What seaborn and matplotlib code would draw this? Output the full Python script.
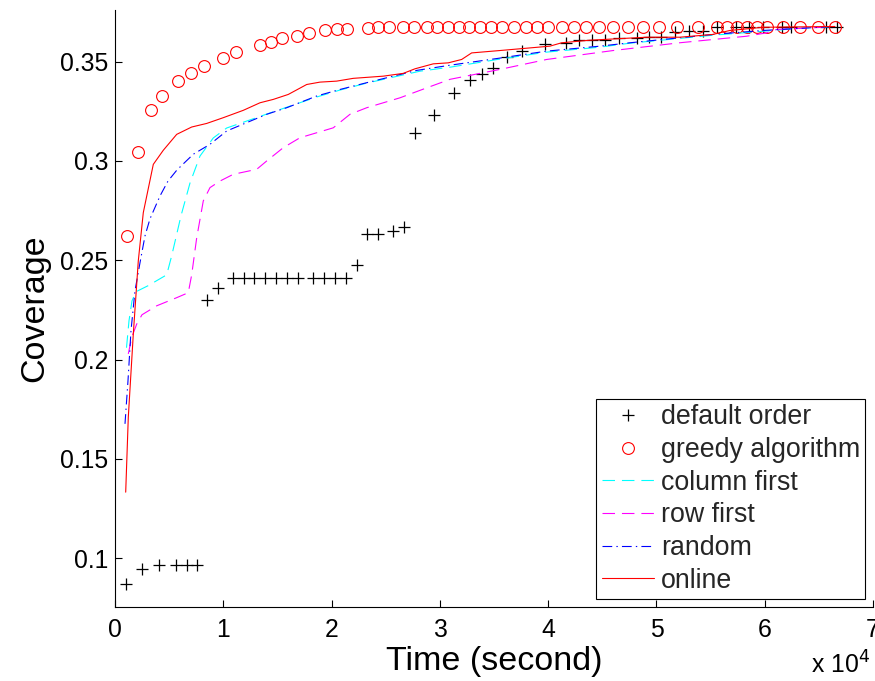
import numpy as np
import pandas as pd
import matplotlib
matplotlib.use("Agg")
import matplotlib.pyplot as plt
import seaborn as sns

# ---------------- data ----------------
default_x = [988, 2521, 4090, 5633, 6620, 7544,
             8467, 9483, 10923, 11939, 12862, 13850, 14866, 15882, 16870,
             18310, 19298, 20314, 21302, 22318, 23241, 24257, 25642, 26713,
             27701, 29483, 31302, 32779, 33860, 34875, 36224, 37553, 39705,
             41616, 42844, 44072, 45245, 46537, 48200, 49350, 50460, 51708,
             53000, 54290, 55560, 57390, 58540, 59830, 61590, 62420, 65650, 66670]
default_y = [0.0869, 0.0946, 0.0965, 0.0965, 0.0965, 0.0965,
             0.2300, 0.2360, 0.2409, 0.2409, 0.2409, 0.2409, 0.2409, 0.2409, 0.2409,
             0.2412, 0.2412, 0.2412, 0.2412, 0.2476, 0.2632, 0.2632, 0.2648, 0.2668,
             0.3139, 0.3231, 0.3343, 0.3406, 0.3439, 0.3469, 0.3524, 0.3556, 0.3589,
             0.3594, 0.3607, 0.3607, 0.3607, 0.3620, 0.3620, 0.3622, 0.3625, 0.3650,
             0.3652, 0.3652, 0.3675, 0.3675, 0.3675, 0.3675, 0.3675, 0.3675, 0.3675, 0.3675]

greedy_x = [1080, 2096, 3324, 4312, 5845, 7018, 8218, 10000, 11173, 13389,
            14377, 15393, 16777, 17913, 19391, 20526, 21450, 23389, 24312, 25328,
            26620, 27608, 28781, 29760, 30776, 31764, 32715, 33703, 34718, 35762,
            36870, 37922, 38938, 39954, 41247, 42410, 43463, 44737, 46011, 47341,
            48753, 50203, 51893, 53832, 55559, 56482, 57406, 58329, 59252, 60249,
            61708, 63278, 64940, 66528]
greedy_y = [0.2620, 0.3045, 0.3256, 0.3327, 0.3402, 0.3442, 0.3476, 0.3519, 0.3549, 0.3584,
            0.3600, 0.3617, 0.3630, 0.3642, 0.3657, 0.3662, 0.3665, 0.3671, 0.3673, 0.3675,
            0.3675, 0.3675, 0.3675, 0.3675, 0.3675, 0.3675, 0.3675, 0.3675, 0.3675, 0.3675,
            0.3675, 0.3675, 0.3675, 0.3675, 0.3675, 0.3675, 0.3675, 0.3675, 0.3675, 0.3675,
            0.3675, 0.3675, 0.3675, 0.3675, 0.3675, 0.3675, 0.3675, 0.3675, 0.3675, 0.3675,
            0.3675, 0.3675, 0.3675, 0.3675]

column_x = [1062, 1293, 1570, 1939, 3047, 4774, 5236, 6094, 6925, 7849, 9077, 10314,
            12161, 14007, 18624, 20776, 23241, 25697, 28163, 30932, 35549, 39862,
            44783, 47553, 55217, 59834, 63250, 66297]
column_y = [0.2060, 0.2196, 0.2296, 0.2342, 0.2372, 0.2427, 0.2523, 0.2724, 0.2889, 0.3025,
            0.3116, 0.3166, 0.3201, 0.3236, 0.3322, 0.3357, 0.3392, 0.3422, 0.3452, 0.3472,
            0.3513, 0.3548, 0.3573, 0.3593, 0.3633, 0.3653, 0.3668, 0.3676]

row_x = [1228, 1542, 2004, 2493, 3850, 5697, 6768, 7082, 7544, 8153, 8772, 9695,
         10923, 13084, 14007, 15540, 17082, 20157, 21699, 23241, 26316, 28781,
         30932, 35549, 39862, 46011, 52142, 58329, 60175, 61098, 65402]
row_y = [0.2029, 0.2112, 0.2179, 0.2226, 0.2271, 0.2312, 0.2337, 0.2427, 0.2613, 0.2799,
         0.2866, 0.2899, 0.2933, 0.2958, 0.3000, 0.3067, 0.3117, 0.3167, 0.3235, 0.3268,
         0.3318, 0.3368, 0.3411, 0.3461, 0.3511, 0.3556, 0.3595, 0.3628, 0.3645, 0.3662,
         0.3673]

random_x = [923, 1200, 1477, 1847, 2308, 2770, 3232, 4155, 4894, 5725, 7230, 8772,
            10314, 12161, 14007, 15854, 18624, 20776, 23241, 25697, 27858, 30932,
            35549, 39862, 44783, 47553, 55245, 59862, 66297]
random_y = [0.1677, 0.1894, 0.2146, 0.2347, 0.2488, 0.2623, 0.2709, 0.2824, 0.2899, 0.2955,
            0.3034, 0.3084, 0.3151, 0.3193, 0.3235, 0.3268, 0.3327, 0.3360, 0.3394, 0.3427,
            0.3456, 0.3482, 0.3518, 0.3553, 0.3578, 0.3595, 0.3637, 0.3657, 0.3677]

online_x = [988, 1228, 1690, 2151, 2613, 3537, 4460, 5697, 7082, 8467, 10000, 11847,
            13389, 14617, 16002, 17701, 18929, 20471, 22004, 24774, 26620, 27701,
            29391, 30776, 32013, 32936, 35549, 40166, 41247, 43860, 49095, 52142,
            55217, 56787, 59834, 66482]
online_y = [0.1333, 0.1710, 0.2129, 0.2497, 0.2740, 0.2983, 0.3054, 0.3134, 0.3171, 0.3189,
            0.3218, 0.3255, 0.3293, 0.3310, 0.3335, 0.3385, 0.3397, 0.3402, 0.3416, 0.3427,
            0.3441, 0.3464, 0.3489, 0.3494, 0.3511, 0.3544, 0.3556, 0.3578, 0.3595, 0.3608,
            0.3623, 0.3623, 0.3637, 0.3657, 0.3673, 0.3677]

labels = ["default order", "greedy algorithm", "column first", "row first", "random", "online"]
x_ticks = [0, 10000, 20000, 30000, 40000, 50000, 60000, 70000]
x_tick_labels = ["0", "1", "2", "3", "4", "5", "6", "7"]
y_ticks = [0.1, 0.15, 0.2, 0.25, 0.3, 0.35]
y_tick_labels = ["0.1", "0.15", "0.2", "0.25", "0.3", "0.35"]

# ---------------- style ----------------
sns.set_theme(style="ticks")
plt.rcParams["font.family"] = ["Liberation Sans", "DejaVu Sans"]
plt.rcParams["lines.scale_dashes"] = False
plt.rcParams["xtick.direction"] = "in"
plt.rcParams["ytick.direction"] = "in"

fig = plt.figure(figsize=(8.75, 6.81), dpi=100)
ax = fig.add_axes([115 / 875, 1 - 607 / 681, 758 / 875, 597 / 681])

# markers
sns.lineplot(x=default_x, y=default_y, ax=ax, sort=False, estimator=None,
             color="black", marker="+", markersize=9, markeredgewidth=0.9,
             markeredgecolor="black", linestyle="", label=labels[0])
sns.lineplot(x=greedy_x, y=greedy_y, ax=ax, sort=False, estimator=None,
             color="red", marker="o", markersize=8.5, markerfacecolor="none",
             markeredgecolor="red", markeredgewidth=0.8, linestyle="",
             label=labels[1])
# lines
sns.lineplot(x=column_x, y=column_y, ax=ax, sort=False, estimator=None,
             color="#00FFFF", linewidth=0.8, label=labels[2])
ax.get_lines()[-1].set_dashes((9, 5))
sns.lineplot(x=row_x, y=row_y, ax=ax, sort=False, estimator=None,
             color="#FF00FF", linewidth=0.8, label=labels[3])
ax.get_lines()[-1].set_dashes((9, 5))
sns.lineplot(x=random_x, y=random_y, ax=ax, sort=False, estimator=None,
             color="#0000FF", linewidth=0.8, label=labels[4])
ax.get_lines()[-1].set_dashes((7, 3, 1, 3))
sns.lineplot(x=online_x, y=online_y, ax=ax, sort=False, estimator=None,
             color="#FF0000", linewidth=0.8, label=labels[5])

ax.set_xlim(0, 70000)
ax.set_ylim(0.0755, 0.376)
ax.set_xticks(x_ticks)
ax.set_xticklabels(x_tick_labels)
ax.set_yticks(y_ticks)
ax.set_yticklabels(y_tick_labels)
ax.tick_params(axis="both", labelsize=17.8, length=5, width=0.8, color="black",
               labelcolor="black")
ax.tick_params(axis="x", pad=8)
ax.tick_params(axis="y", pad=5)

for s in ["top", "right"]:
    ax.spines[s].set_visible(False)
for s in ["left", "bottom"]:
    ax.spines[s].set_color("black")
    ax.spines[s].set_linewidth(0.8)

ax.set_xlabel("Time (second)", fontsize=24.5, color="black", labelpad=3)
ax.set_ylabel("Coverage", fontsize=24.5, color="black", labelpad=7)

fig.text(870 / 875, 2 / 681, "x 10$^{4}$", ha="right", va="bottom",
         fontsize=17.8, color="black")

leg = ax.legend(loc="lower right", bbox_to_anchor=(0.99, 0.013), fontsize=19.3,
                frameon=True, fancybox=False, edgecolor="black", framealpha=1,
                handlelength=1.95, handletextpad=0.25, labelspacing=0.25,
                borderpad=0.2, borderaxespad=0, numpoints=1)
leg.get_frame().set_linewidth(0.8)

fig.savefig("out.png", dpi=100)
